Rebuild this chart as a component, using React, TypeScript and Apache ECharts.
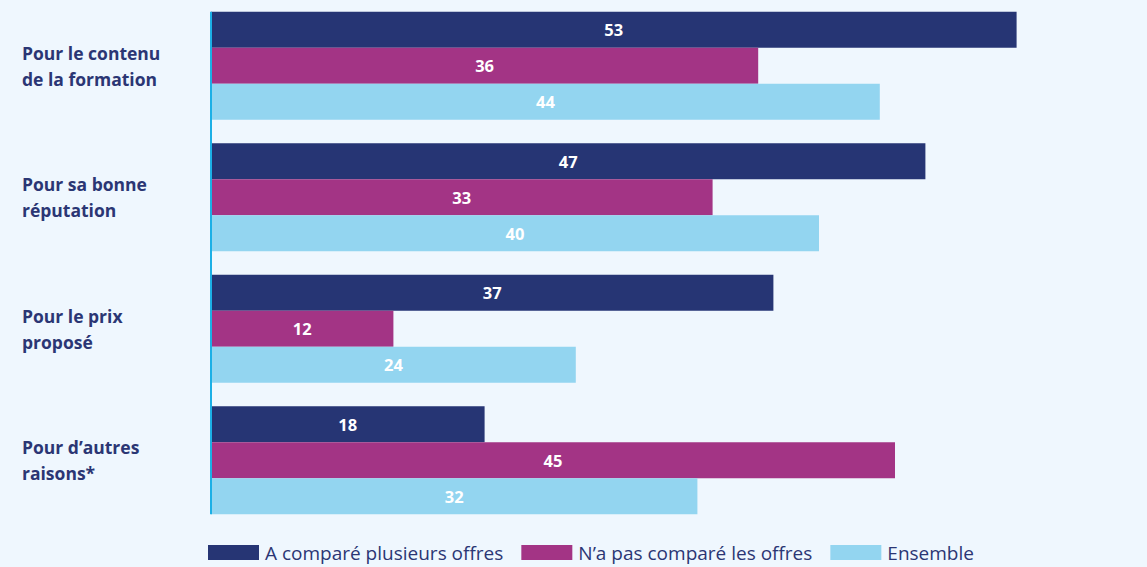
import React, { useEffect, useRef } from "react";
import * as echarts from "echarts";

const categories = [
  "Pour le contenu\nde la formation",
  "Pour sa bonne\nréputation",
  "Pour le prix\nproposé",
  "Pour d\u2019autres\nraisons*",
];
const seriesNames = ["A comparé plusieurs offres", "N\u2019a pas comparé les offres", "Ensemble"];
const comparedValues = [53, 47, 37, 18];
const notComparedValues = [36, 33, 12, 45];
const allValues = [44, 40, 24, 32];
const colors = ["#263574", "#a33485", "#93d5f0"];

const FONT = "'Open Sans', sans-serif";
const NAVY = "#2b3674";

export default function App() {
  const ref = useRef<HTMLDivElement>(null);
  useEffect(() => {
    if (!ref.current) return;
    const chart = echarts.init(ref.current, null, { renderer: "svg" });
    const mk = (name: string, data: number[], color: string) => ({
      name,
      type: "bar",
      data,
      barWidth: 36,
      barGap: "0%",
      itemStyle: { color },
      label: {
        show: true,
        position: "inside",
        color: "#ffffff",
        fontFamily: FONT,
        fontWeight: 700,
        fontSize: 16.5,
      },
    });
    chart.setOption({
      animation: false,
      backgroundColor: "#eff7fe",
      grid: { left: 211, right: 24, top: 0, height: 526 },
      xAxis: {
        type: "value",
        min: 0,
        max: 60,
        show: false,
      },
      yAxis: {
        type: "category",
        data: categories,
        inverse: true,
        axisLine: { show: false },
        axisTick: { show: false },
        splitLine: { show: false },
        axisLabel: {
          align: "left",
          margin: 189,
          color: NAVY,
          fontFamily: FONT,
          fontWeight: 700,
          fontSize: 17.5,
          lineHeight: 26,
        },
      },
      legend: {
        left: 208,
        top: 543,
        padding: 0,
        itemWidth: 51,
        itemHeight: 15,
        itemGap: 18,
        icon: "rect",
        textStyle: { color: NAVY, fontFamily: FONT, fontSize: 19, padding: [0, 0, 0, 1] },
        data: seriesNames,
      },
      series: [
        mk(seriesNames[0], comparedValues, colors[0]),
        mk(seriesNames[1], notComparedValues, colors[1]),
        mk(seriesNames[2], allValues, colors[2]),
      ],
    });
    const x0 = chart.convertToPixel({ xAxisIndex: 0 }, 0) as number;
    const yTop = (chart.convertToPixel({ yAxisIndex: 0 }, categories[0]) as number) - 54;
    const yBot = (chart.convertToPixel({ yAxisIndex: 0 }, categories[categories.length - 1]) as number) + 54;
    chart.setOption({
      graphic: [
        {
          type: "line",
          shape: { x1: x0, y1: yTop, x2: x0, y2: yBot },
          style: { stroke: "#1cb0e6", lineWidth: 2 },
          z: 10,
        },
      ],
    });
    return () => chart.dispose();
  }, []);
  return <div ref={ref} style={{ width: 1147, height: 567, position: "absolute", left: 0, top: 0 }} />;
}
